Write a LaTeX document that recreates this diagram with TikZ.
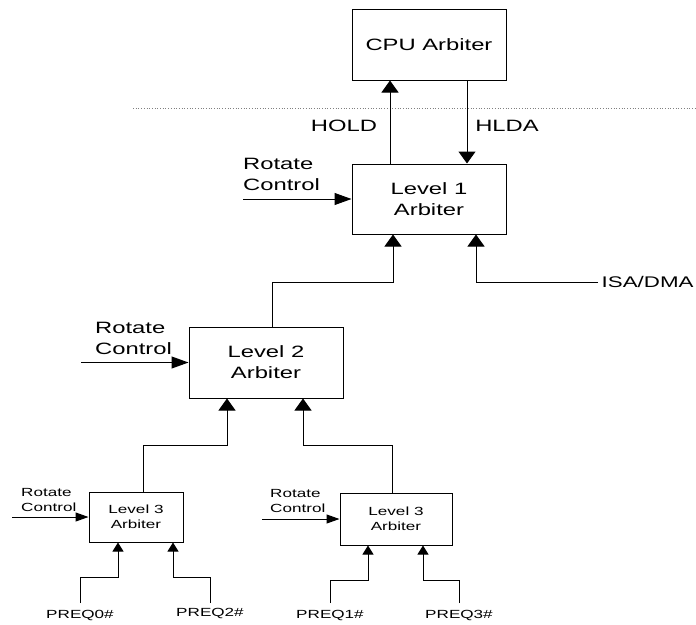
\documentclass[tikz,border=0pt]{standalone}
\usepackage{fontspec}
\setmainfont{Liberation Sans}
\newfontfamily\stretchfont[FakeStretch=1.45]{Liberation Sans}
\usetikzlibrary{arrows.meta}
\newcommand{\bigfont}{\stretchfont\fontsize{16.4}{21}\selectfont}
\newcommand{\smallfont}{\stretchfont\fontsize{11.8}{15}\selectfont}
\tikzset{
  box/.style={draw, line width=1pt, inner sep=0pt, align=center},
  bigbox/.style={box, font=\bigfont},
  smallbox/.style={box, font=\smallfont},
  lbl/.style={inner sep=0pt, align=left, font=\bigfont},
  slbl/.style={inner sep=0pt, align=left, font=\smallfont},
  wire/.style={line width=1pt},
  arrv/.style={wire, -{Triangle[length=12pt,width=17pt]}},
  arrh/.style={wire, -{Triangle[length=17pt,width=12pt]}},
  sarrv/.style={wire, -{Triangle[length=9pt,width=11pt]}},
  sarrh/.style={wire, -{Triangle[length=13pt,width=9pt]}},
}
\begin{document}
\begin{tikzpicture}[x=1pt,y=-1pt]
\useasboundingbox (0,0) rectangle (696,624);
% dotted separator
\draw[gray, dotted, line width=0.7pt] (133,108) -- (696,108);
% boxes
\node[bigbox, minimum width=154pt, minimum height=71pt] (cpu) at (429,44.5) {CPU Arbiter};
\node[bigbox, minimum width=154pt, minimum height=70pt] (l1) at (429,199) {Level 1\\Arbiter};
\node[bigbox, minimum width=154pt, minimum height=71pt] (l2) at (266,362.5) {Level 2\\Arbiter};
\node[smallbox, minimum width=94pt, minimum height=50pt] (l3a) at (136,517) {Level 3\\Arbiter};
\node[smallbox, minimum width=112pt, minimum height=52pt] (l3b) at (396,519) {Level 3\\Arbiter};
% HOLD / HLDA
\draw[arrv] ([xshift=-39pt]l1.north) -- ([xshift=-39pt]cpu.south);
\draw[arrv] ([xshift=38pt]cpu.south) -- ([xshift=38pt]l1.north);
\node[lbl, anchor=center] (hold) at (344,126) {HOLD};
\node[lbl, anchor=center] (hlda) at (507,126) {HLDA};
% Rotate control labels
\node[lbl, anchor=west] (rc1) at (243,174) {Rotate\\Control};
\draw[arrh] (rc1.west |- l1.west) -- (l1.west);
\node[lbl, anchor=west] (rc2) at (95,338) {Rotate\\Control};
\draw[arrh] ([xshift=-14pt]rc2.west |- l2.west) -- (l2.west);
\node[slbl, anchor=west] (rc3) at (21,499.5) {Rotate\\Control};
\draw[sarrh] ([xshift=-9pt]rc3.west |- l3a.west) -- (l3a.west);
\node[slbl, anchor=west] (rc4) at (270,501) {Rotate\\Control};
\draw[sarrh] ([xshift=-8pt]rc4.west |- l3b.west) -- (l3b.west);
% ISA/DMA
\node[lbl, anchor=west, inner xsep=3.5pt, font=\stretchfont\fontsize{15.4}{20}\selectfont] (isa) at (598,282) {ISA/DMA};
\draw[arrv] (isa.west) -| ([xshift=47pt]l1.south);
% L2 -> L1
\draw[arrv] ([xshift=6pt]l2.north) |- ([xshift=-36pt,yshift=-48pt]l1.south) -- ([xshift=-36pt]l1.south);
% L3 -> L2
\draw[arrv] ([xshift=7pt]l3a.north) |- ([xshift=-39pt,yshift=-47pt]l2.south) -- ([xshift=-39pt]l2.south);
\draw[arrv] ([xshift=-4pt]l3b.north) |- ([xshift=37pt,yshift=-47pt]l2.south) -- ([xshift=37pt]l2.south);
% PREQ labels
\node[slbl, anchor=north, inner ysep=7pt] (p0) at (80,603) {PREQ0\#};
\node[slbl, anchor=north, inner ysep=5pt] (p2) at (210,603) {PREQ2\#};
\node[slbl, anchor=north, inner ysep=7pt] (p1) at (330,603) {PREQ1\#};
\node[slbl, anchor=north, inner ysep=7pt] (p3) at (459,603) {PREQ3\#};
\draw[sarrv] (p0.north) |- ([xshift=-18pt,yshift=-35pt]l3a.south) -- ([xshift=-18pt]l3a.south);
\draw[sarrv] (p2.north) |- ([xshift=37pt,yshift=-35pt]l3a.south) -- ([xshift=37pt]l3a.south);
\draw[sarrv] (p1.north) |- ([xshift=-28pt,yshift=-35pt]l3b.south) -- ([xshift=-28pt]l3b.south);
\draw[sarrv] (p3.north) |- ([xshift=27pt,yshift=-35pt]l3b.south) -- ([xshift=27pt]l3b.south);
\end{tikzpicture}
\end{document}
